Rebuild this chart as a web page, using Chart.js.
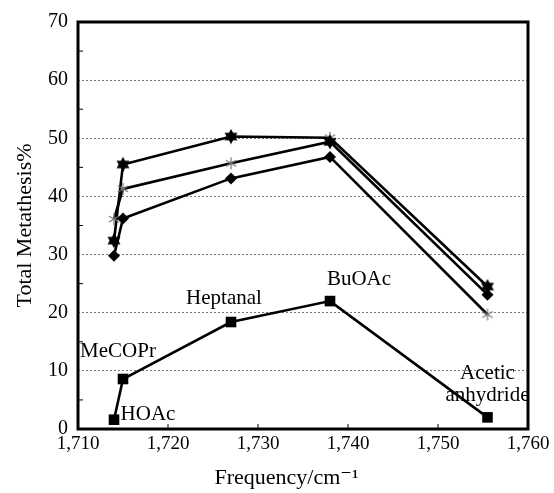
<!DOCTYPE html>
<html>
<head>
<meta charset="utf-8">
<script src="https://cdn.jsdelivr.net/npm/chart.js@4.4.1/dist/chart.umd.min.js"></script>
<style>
  html, body { margin: 0; padding: 0; background: #fff; }
  #wrap { width: 554px; height: 493px; }
</style>
</head>
<body>
<div id="wrap"><canvas id="myChart" width="554" height="493"></canvas></div>
<script>
// carbonyl stretching frequency of the additive (cm-1)
const freqs = [1714, 1715, 1727, 1738, 1755.5];
const additives = ["HOAc", "MeCOPr", "Heptanal", "BuOAc", "Acetic\nanhydride"];

// total metathesis %
const seriesStar = [32.4, 45.5, 50.3, 50.1, 24.5];
const seriesAsterisk = [36.1, 41.3, 45.7, 49.4, 23.1];
const seriesDiamond = [29.8, 36.2, 43.1, 46.8, 19.7];
const seriesSquare = [1.6, 8.6, 18.4, 22.0, 2.0];

const xTicks = [1710, 1720, 1730, 1740, 1750, 1760];
const yTicks = [0, 10, 20, 30, 40, 50, 60, 70];

const serif = '"Liberation Serif", "DejaVu Serif", serif';

// marker images
function makeStar() {
  const c = document.createElement("canvas");
  c.width = 16; c.height = 16;
  const g = c.getContext("2d");
  g.fillStyle = "#000";
  const tri = (rot) => {
    g.beginPath();
    for (let k = 0; k < 3; k++) {
      const a = rot + k * 2 * Math.PI / 3;
      const px = 8 + 7.5 * Math.sin(a), py = 8 - 7.5 * Math.cos(a);
      k === 0 ? g.moveTo(px, py) : g.lineTo(px, py);
    }
    g.closePath();
    g.fill();
  };
  tri(0); tri(Math.PI);
  return c;
}
function makeAsterisk() {
  const c = document.createElement("canvas");
  c.width = 14; c.height = 14;
  const g = c.getContext("2d");
  g.strokeStyle = "#777";
  g.lineWidth = 1.2;
  for (let k = 0; k < 3; k++) {
    const a = k * Math.PI / 3 + Math.PI / 2;
    g.beginPath();
    g.moveTo(7 + 6 * Math.cos(a), 7 + 6 * Math.sin(a));
    g.lineTo(7 - 6 * Math.cos(a), 7 - 6 * Math.sin(a));
    g.stroke();
  }
  return c;
}
const star = makeStar();
const asterisk = makeAsterisk();

const pts = (ys) => freqs.map((f, i) => ({ x: f, y: ys[i] }));

const lineDs = (ys, styles, radius) => ({
  data: pts(ys),
  borderColor: "#000",
  borderWidth: 2.6,
  backgroundColor: "#000",
  pointBorderColor: "#000",
  pointBackgroundColor: "#000",
  pointStyle: styles,
  pointRadius: radius,
  pointBorderWidth: 0,
  tension: 0,
});

const data = {
  datasets: [
    lineDs(seriesDiamond, ["rectRot", "rectRot", "rectRot", "rectRot", asterisk], 6),
    lineDs(seriesAsterisk, [asterisk, asterisk, asterisk, star, "rectRot"], 6),
    lineDs(seriesStar, [star, star, star, asterisk, star], 6),
    lineDs(seriesSquare, "rect", 7.5),
  ],
};

// frame, inward ticks and additive names
const decor = {
  id: "decor",
  afterDatasetsDraw(chart) {
    const { ctx, chartArea: a, scales } = chart;
    ctx.save();
    ctx.strokeStyle = "#000";
    ctx.lineWidth = 1;
    for (let v = 5; v < 70; v += 10) {
      const y = scales.y.getPixelForValue(v);
      ctx.beginPath(); ctx.moveTo(a.left, y); ctx.lineTo(a.left + 5, y); ctx.stroke();
    }
    xTicks.slice(1, -1).forEach((v) => {
      const x = scales.x.getPixelForValue(v);
      ctx.beginPath(); ctx.moveTo(x, a.bottom); ctx.lineTo(x, a.bottom - 5); ctx.stroke();
    });
    ctx.lineWidth = 3;
    ctx.strokeRect(a.left, a.top, a.right - a.left, a.bottom - a.top);

    const offs = [[34, -5], [-5, -28], [-7, -24], [29, -22], [0, -44]];
    const meta = chart.getDatasetMeta(3);
    ctx.fillStyle = "#000";
    ctx.font = "21px " + serif;
    ctx.textAlign = "center";
    ctx.textBaseline = "middle";
    meta.data.forEach((p, i) => {
      const lines = additives[i].split("\n");
      lines.forEach((t, j) => {
        ctx.fillText(t, p.x + offs[i][0], p.y + offs[i][1] + j * 22);
      });
    });
    ctx.restore();
  },
};

const config = {
  type: "line",
  data: data,
  options: {
    responsive: false,
    animation: false,
    layout: { padding: { top: 18, right: 26, left: 0, bottom: 0 } },
    plugins: { legend: { display: false }, tooltip: { enabled: false } },
    scales: {
      x: {
        type: "linear",
        min: 1710,
        max: 1760,
        afterBuildTicks: (s) => { s.ticks = xTicks.map((v) => ({ value: v })); },
        afterFit: (s) => { s.height = 64; },
        ticks: {
          color: "#000",
          font: { family: serif, size: 19 },
          padding: 4,
          maxRotation: 0,
          callback: (v) => v.toLocaleString("en-US"),
        },
        grid: { display: false, drawTicks: false },
        border: { display: false },
        title: {
          display: true,
          text: "Frequency/cm\u207B\u00B9      ",
          color: "#000",
          font: { family: serif, size: 22 },
          padding: { top: 0, bottom: 2 },
        },
      },
      y: {
        min: 0,
        max: 70,
        afterBuildTicks: (s) => { s.ticks = yTicks.map((v) => ({ value: v })); },
        afterFit: (s) => { s.width = 78; },
        ticks: {
          color: "#000",
          font: { family: serif, size: 20 },
          padding: 10,
        },
        grid: {
          drawTicks: false,
          color: (c) => (c.tick && c.tick.value > 0 && c.tick.value < 70 ? "#777" : "rgba(0,0,0,0)"),
          lineWidth: 1,
        },
        border: { display: false, dash: [2, 2] },
        title: {
          display: true,
          text: "Total Metathesis%",
          color: "#000",
          font: { family: serif, size: 22 },
          padding: { top: 12, bottom: 0 },
        },
      },
    },
  },
  plugins: [decor],
};

const ctx = document.getElementById("myChart").getContext("2d");
const myChart = new Chart(ctx, config);
</script>
</body>
</html>
